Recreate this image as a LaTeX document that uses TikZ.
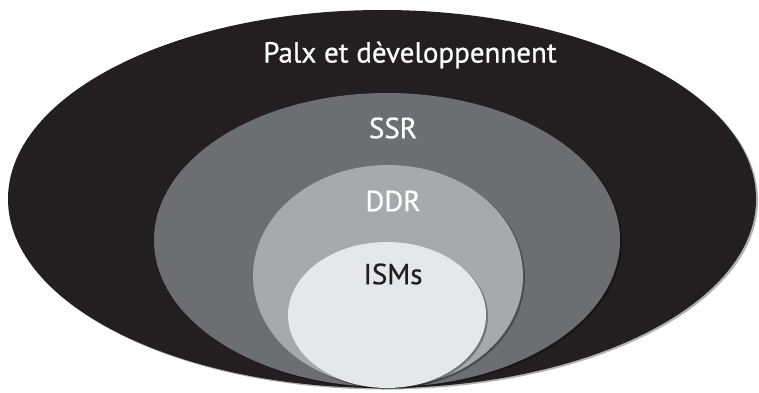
\documentclass[tikz,border=0pt]{standalone}
\usepackage{fontspec}
\setmainfont{PT Sans}
\usetikzlibrary{shapes.geometric,shadows}
\definecolor{cBlack}{HTML}{231F20}
\definecolor{cDark}{HTML}{6D6E71}
\definecolor{cMid}{HTML}{A7A9AC}
\definecolor{cLight}{HTML}{E6E7E8}
\tikzset{
  ring/.style={ellipse, inner sep=0pt, draw=none,
    drop shadow={shadow xshift=2pt, shadow yshift=-1.5pt, opacity=0.3, fill=black}},
  lbl/.style={text=white, font=\fontsize{29}{34}\selectfont\addfontfeatures{FakeBold=0.7}, inner sep=0pt},
  lbldark/.style={lbl, text=cBlack}
}
\begin{document}
\begin{tikzpicture}[x=1pt,y=1pt]
\useasboundingbox (0,0) rectangle (759,392);
\node[ring, fill=cBlack, minimum width=748pt, minimum height=378pt] (outer) at (382,193) {};
\node[ring, fill=cDark, minimum width=466pt, minimum height=294pt] (ssr) at (387,152) {};
\node[ring, fill=cMid, minimum width=270pt, minimum height=222pt] (ddr) at (388,116) {};
\node[ring, fill=cLight, minimum width=198pt, minimum height=146pt] (isms) at (387,77) {};
\node[lbl] (t1) at (410,337) {Palx et dèveloppennent};
\node[lbl] (t2) at (393,264) {SSR};
\node[lbl] (t3) at (393,191) {DDR};
\node[lbldark] (t4) at (393,118) {ISMs};
\end{tikzpicture}
\end{document}
